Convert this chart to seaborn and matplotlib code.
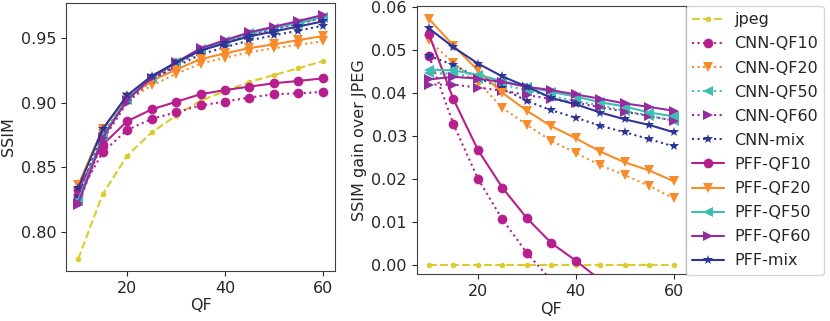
import matplotlib
matplotlib.use("Agg")
import matplotlib.pyplot as plt
import numpy as np
import seaborn as sns

# quality factors on the x axis
QF = [10, 15, 20, 25, 30, 35, 40, 45, 50, 55, 60]

# plain JPEG SSIM
JPEG = [0.779, 0.829, 0.859, 0.877, 0.890, 0.9017, 0.909, 0.9162, 0.9216, 0.9268, 0.9324]

# SSIM gain over JPEG for each model
CNN_QF10 = [0.0486, 0.0327, 0.0200, 0.0105, 0.0027, -0.0037, -0.0080, -0.0121, -0.0149, -0.0194, -0.0239]
CNN_QF20 = [0.0522, 0.0469, 0.0425, 0.0365, 0.0325, 0.0288, 0.0260, 0.0231, 0.0208, 0.0183, 0.0154]
CNN_QF50 = [0.0445, 0.0445, 0.0433, 0.0420, 0.0405, 0.0392, 0.0381, 0.0370, 0.0358, 0.0346, 0.0335]
CNN_QF60 = [0.0419, 0.0419, 0.0412, 0.0405, 0.0395, 0.0385, 0.0377, 0.0366, 0.0356, 0.0346, 0.0335]
CNN_MIX = [0.0486, 0.0465, 0.0435, 0.0410, 0.0381, 0.0359, 0.0342, 0.0323, 0.0308, 0.0292, 0.0275]
PFF_QF10 = [0.0536, 0.0385, 0.0267, 0.0179, 0.0108, 0.0050, 0.0009, -0.0036, -0.0064, -0.0098, -0.0134]
PFF_QF20 = [0.0572, 0.0510, 0.0452, 0.0400, 0.0358, 0.0322, 0.0294, 0.0263, 0.0238, 0.0219, 0.0194]
PFF_QF50 = [0.0454, 0.0452, 0.0442, 0.0427, 0.0414, 0.0402, 0.0391, 0.0378, 0.0368, 0.0354, 0.0345]
PFF_QF60 = [0.0431, 0.0437, 0.0433, 0.0425, 0.0414, 0.0406, 0.0396, 0.0386, 0.0375, 0.0367, 0.0358]
PFF_MIX = [0.0550, 0.0506, 0.0468, 0.0438, 0.0414, 0.0388, 0.0373, 0.0354, 0.0338, 0.0325, 0.0308]

YELLOW = "#dccb2c"
MAGENTA = "#b71e8e"
ORANGE = "#f98c2a"
TEAL = "#3cbfb0"
PURPLE = "#962ba0"
NAVY = "#2f3595"

SERIES = [
    ("jpeg", [0.0] * len(QF), YELLOW, ".", "--"),
    ("CNN-QF10", CNN_QF10, MAGENTA, "o", ":"),
    ("CNN-QF20", CNN_QF20, ORANGE, "v", ":"),
    ("CNN-QF50", CNN_QF50, TEAL, "<", ":"),
    ("CNN-QF60", CNN_QF60, PURPLE, ">", ":"),
    ("CNN-mix", CNN_MIX, NAVY, "*", ":"),
    ("PFF-QF10", PFF_QF10, MAGENTA, "o", "-"),
    ("PFF-QF20", PFF_QF20, ORANGE, "v", "-"),
    ("PFF-QF50", PFF_QF50, TEAL, "<", "-"),
    ("PFF-QF60", PFF_QF60, PURPLE, ">", "-"),
    ("PFF-mix", PFF_MIX, NAVY, "*", "-"),
]

sns.set_style("ticks", {"axes.edgecolor": "0.25"})
plt.rcParams["font.family"] = ["DejaVu Sans"]
plt.rcParams["font.size"] = 11.5

fig = plt.figure(figsize=(8.3, 3.21), dpi=100)
ax1 = fig.add_axes([66 / 830, 1 - 271 / 321, 269 / 830, 268 / 321])
ax2 = fig.add_axes([416.7 / 830, 1 - 274 / 321, 269.3 / 830, 268 / 321])

jpeg = np.array(JPEG)
for name, gain, color, marker, ls in SERIES:
    ms = 7 if marker != "." else 8
    sns.lineplot(x=QF, y=jpeg + np.array(gain), ax=ax1, color=color, marker=marker,
                 linestyle=ls, markersize=ms, markeredgewidth=0, lw=1.5)
    sns.lineplot(x=QF, y=gain, ax=ax2, color=color, marker=marker, linestyle=ls,
                 markersize=ms, markeredgewidth=0, lw=1.5, label=name)

ax1.set_xlabel("QF", labelpad=2)
ax1.set_ylabel("SSIM", labelpad=3)
ax1.set_xlim(7.5, 62.5)
ax1.set_ylim(0.7695, 0.9775)
ax1.set_xticks([20, 40, 60])
ax1.set_yticks([0.80, 0.85, 0.90, 0.95])

ax2.set_xlabel("QF", labelpad=2)
ax2.set_ylabel("SSIM gain over JPEG", labelpad=3)
ax2.set_xlim(7.5, 62.5)
ax2.set_ylim(-0.0022, 0.0602)
ax2.set_xticks([20, 40, 60])
ax2.set_yticks([0.00, 0.01, 0.02, 0.03, 0.04, 0.05, 0.06])
ax2.yaxis.set_major_formatter(matplotlib.ticker.FormatStrFormatter("%.2f"))

for ax in (ax1, ax2):
    for sp in ax.spines.values():
        sp.set_visible(True)

ax2.legend(loc="upper left", bbox_to_anchor=(1.0, 1.0), frameon=True,
           fontsize=11.5, handlelength=2, borderaxespad=0.0, labelspacing=0.57,
           borderpad=0.4, handletextpad=0.6)

fig.savefig("out.png", dpi=100)
